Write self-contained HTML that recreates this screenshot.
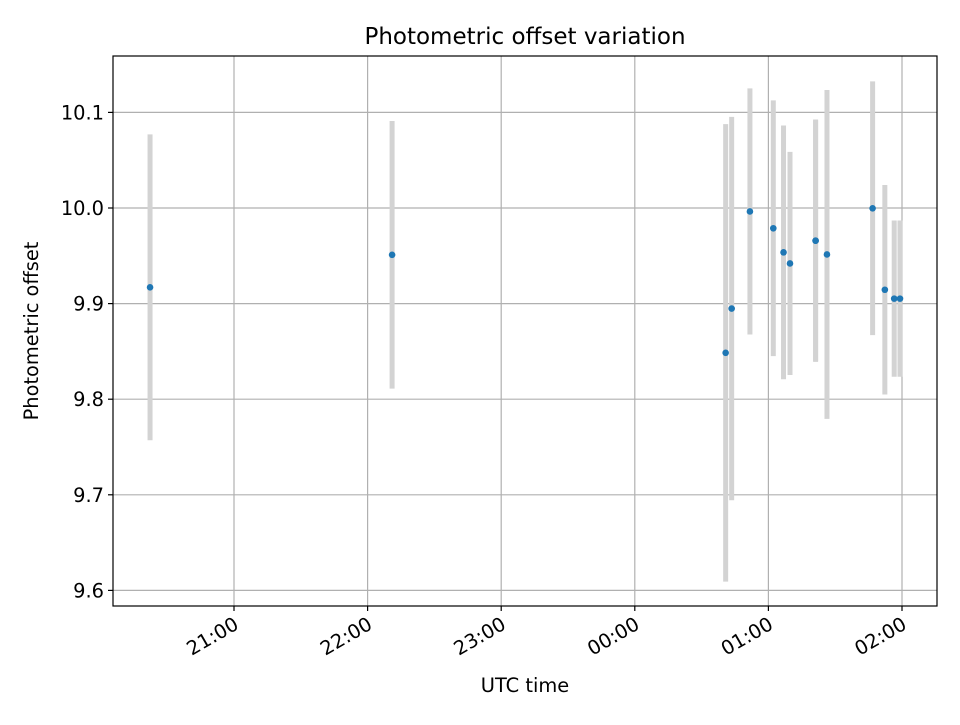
<!DOCTYPE html>
<html><head><meta charset="utf-8"><style>
body{margin:0;background:#fff;}
svg text{font-family:"DejaVu Sans","Liberation Sans",sans-serif;fill:#000;}
</style></head><body>
<svg id="chart" width="960" height="720" xmlns="http://www.w3.org/2000/svg">
<rect width="960" height="720" fill="#fff"/>
<text x="525" y="44" font-size="23" text-anchor="middle">Photometric offset variation</text>
<g id="grid"></g><g id="bars"></g><g id="pts"></g><g id="axes"></g>
<text x="525" y="692" font-size="19.4" text-anchor="middle">UTC time</text>
<text transform="translate(38,331) rotate(-90)" font-size="19.4" text-anchor="middle">Photometric offset</text>
</svg>
<script>
const times=["20:22.3","22:11","00:40.8","00:43.5","00:51.7","01:02.2","01:06.8","01:09.7","01:21.2","01:21.2","01:26.3","01:46.8","01:52.3","01:56.5","01:59.1"];
const values=[9.917,9.951,9.8485,9.8948,9.9964,9.9788,9.9536,9.942,9.9658,9.9658,9.9514,9.9997,9.9145,9.9052,9.9052];
const errors=[0.160,0.140,0.2393,0.2005,0.1287,0.1338,0.1327,0.1167,0.1268,0.1259,0.172,0.1327,0.1096,0.0817,0.0817];
const yTicks=[9.6,9.7,9.8,9.9,10.0,10.1];
const yTickLabels=["9.6","9.7","9.8","9.9","10.0","10.1"];
const xTicks=["21:00","22:00","23:00","00:00","01:00","02:00"];
const L=113,R=937,T=56,B=606;
function toMin(s){const [h,m]=s.split(":").map(Number);let hh=h<12?h+24:h;return (hh-21)*60+m;}
function xs(s){return 234+toMin(s)*133.6/60;}
function ys(v){return 208-(v-10)*956;}
const NS="http://www.w3.org/2000/svg";
function mk(tag,attrs,parent){const e=document.createElementNS(NS,tag);for(const k in attrs)e.setAttribute(k,attrs[k]);document.getElementById(parent).appendChild(e);return e;}
yTicks.forEach((v,i)=>{const y=ys(v);
const g=mk("line",{x1:L,x2:R,y1:y,y2:y,stroke:"#b0b0b0","stroke-width":1.2},"grid");


mk("line",{x1:L-5,x2:L,y1:y,y2:y,stroke:"#000","stroke-width":1.2},"axes");
const t=mk("text",{x:L-9,y:y+7,"font-size":19.4,"text-anchor":"end"},"axes");t.textContent=yTickLabels[i];


});
xTicks.forEach(s=>{const x=xs(s);
const g=mk("line",{x1:x,x2:x,y1:T,y2:B,stroke:"#b0b0b0","stroke-width":1.2},"grid");


mk("line",{x1:x,x2:x,y1:B,y2:B+5,stroke:"#000","stroke-width":1.2},"axes");
const t=mk("text",{x:0,y:0,"font-size":19.4,"text-anchor":"end",transform:`translate(${x+6},${B+22}) rotate(-30)`},"axes");t.textContent=s;


});
times.forEach((s,i)=>{const x=xs(s);
const b=mk("line",{x1:x,x2:x,y1:ys(values[i]+errors[i]),y2:ys(values[i]-errors[i]),stroke:"#d3d3d3","stroke-width":5},"bars");


const c=mk("circle",{cx:x,cy:ys(values[i]),r:3.3,fill:"#1f77b4"},"pts");


});
const fr=mk("rect",{x:L,y:T,width:R-L,height:B-T,fill:"none",stroke:"#000","stroke-width":1.2},"axes");


</script>
</body></html>
